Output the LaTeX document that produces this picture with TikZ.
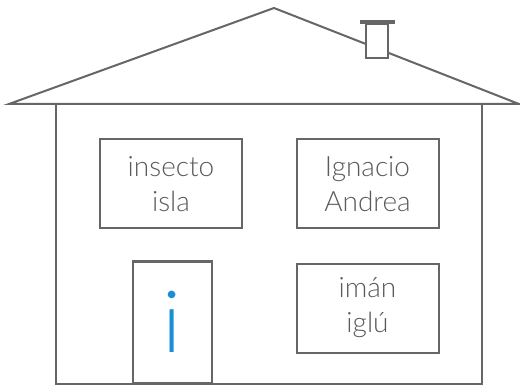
\documentclass[tikz,border=0pt]{standalone}
\usepackage{fontspec}
\setmainfont{Lato}[UprightFont=* Light]
\usepackage{tikz}
\usetikzlibrary{positioning}
\definecolor{hline}{HTML}{666666}
\definecolor{htext}{HTML}{5A5A5A}
\definecolor{hblue}{HTML}{1A8FD8}
\tikzset{
  hwall/.style={draw=hline, line width=2pt},
  hwin/.style={draw=hline, line width=2pt, align=center, inner sep=0pt,
               minimum width=142pt, minimum height=89pt,
               text=htext, font=\fontsize{28}{35}\selectfont},
  hdoor/.style={draw=hline, line width=2pt, inner sep=0pt,
                minimum width=79pt, minimum height=121pt,
                text=hblue, font=\fontsize{86}{86}\selectfont},
}
\begin{document}
\begin{tikzpicture}[x=1pt,y=-1pt]
  \useasboundingbox (0,0) rectangle (520,385);

  % walls
  \draw[hwall] (56,104) -- (56,384) -- (482,384) -- (482,104);

  % roof
  \draw[hwall, line join=miter] (9,104) -- (274,8) -- (519,104) -- cycle;

  % chimney
  \draw[hwall, fill=white] (366,58) rectangle (388,24);
  \draw[hline, line width=4pt] (360,22.5) -- (395,22.5);

  % windows
  \node[hwin] (wa) at (171,184) {insecto\\isla};
  \node[hwin] (wb) at (367.5,184) {Ignacio\\Andrea};
  \node[hwin] (wc) at (367.5,308) {imán\\iglú};

  % door
  \node[hdoor] (door) at (172.5,322) {i};

\end{tikzpicture}
\end{document}
